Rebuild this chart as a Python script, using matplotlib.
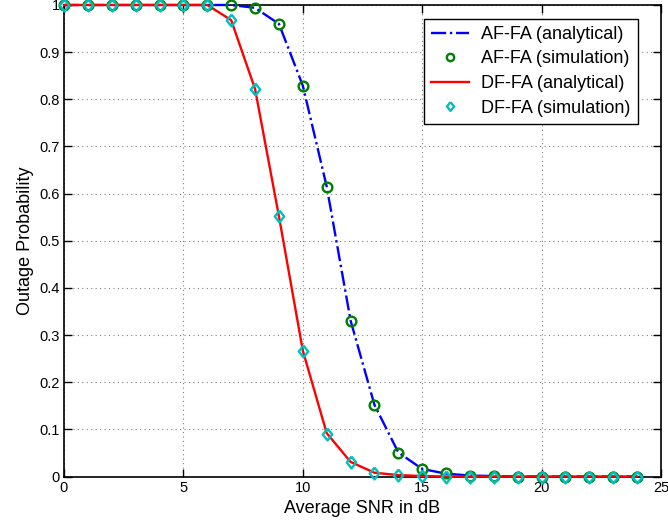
import numpy as np
import matplotlib.pyplot as plt

plt.rcParams['font.family'] = ['Liberation Sans', 'DejaVu Sans']

snr_db = np.arange(0, 25)

# outage probability, amplify-and-forward
af_analytical = [1, 1, 1, 1, 1, 1, 1, 1.0, 0.994, 0.960, 0.829, 0.615, 0.331,
                 0.152, 0.051, 0.016, 0.006, 0.002, 0.001, 0, 0, 0, 0, 0, 0]
af_simulation = [1, 1, 1, 1, 1, 1, 1, 1.0, 0.994, 0.960, 0.829, 0.614, 0.330,
                 0.152, 0.050, 0.016, 0.007, 0.002, 0.001, 0, 0, 0, 0, 0, 0]

# outage probability, decode-and-forward
df_analytical = [1, 1, 1, 1, 1, 1, 1, 0.968, 0.822, 0.552, 0.267, 0.092, 0.031,
                 0.008, 0.003, 0.001, 0, 0, 0, 0, 0, 0, 0, 0, 0]
df_simulation = [1, 1, 1, 1, 1, 1, 1, 0.968, 0.822, 0.553, 0.266, 0.091, 0.031,
                 0.007, 0.003, 0.001, 0, 0, 0, 0, 0, 0, 0, 0, 0]

# matlab-style diamond, a bit taller than wide
diamond = [(0, 1), (0.8, 0), (0, -1), (-0.8, 0), (0, 1)]

fig = plt.figure(figsize=(6.68, 5.23), dpi=100)
ax = fig.add_axes([64 / 668, 46.5 / 523, 597 / 668, 471.5 / 523])

ax.plot(snr_db, af_analytical, color='blue', linestyle='-.', linewidth=1.7,
        label='AF-FA (analytical)', clip_on=False, zorder=3)
ax.plot(snr_db, af_simulation, linestyle='none', marker='o', markersize=7,
        markerfacecolor='none', markeredgecolor=(0, 0.5, 0), markeredgewidth=1.7,
        label='AF-FA (simulation)', clip_on=False, zorder=4)
ax.plot(snr_db, df_analytical, color='red', linestyle='-', linewidth=1.7,
        label='DF-FA (analytical)', clip_on=False, zorder=3)
ax.plot(snr_db, df_simulation, linestyle='none', marker=diamond, markersize=8.5,
        markerfacecolor='none', markeredgecolor=(0, 0.75, 0.75), markeredgewidth=1.7,
        label='DF-FA (simulation)', clip_on=False, zorder=5)

ax.set_xlim(0, 25)
ax.set_ylim(0, 1)
ax.set_xticks(np.arange(0, 26, 5))
ax.set_yticks(np.arange(0, 1.01, 0.1))
ax.set_yticklabels(['0', '0.1', '0.2', '0.3', '0.4', '0.5', '0.6', '0.7', '0.8', '0.9', '1'])

ax.grid(True, linestyle=(0, (1, 3)), color='0.5', linewidth=0.8)
ax.tick_params(direction='in', top=True, right=True, length=6, width=1,
               labelsize=10.5, pad=3)
for s in ax.spines.values():
    s.set_linewidth(1.2)

ax.set_xlabel('Average SNR in dB', fontsize=13, labelpad=4)
ax.set_ylabel('Outage Probability', fontsize=13, labelpad=4)

leg = ax.legend(loc='upper right', bbox_to_anchor=(0.9615, 0.971), borderaxespad=0,
                fontsize=13, fancybox=False, edgecolor='black', framealpha=1,
                handlelength=2.1, handletextpad=0.7, labelspacing=0.42,
                borderpad=0.4, markerscale=0.75)
leg.get_frame().set_linewidth(1)

fig.savefig('out.png', dpi=100)
